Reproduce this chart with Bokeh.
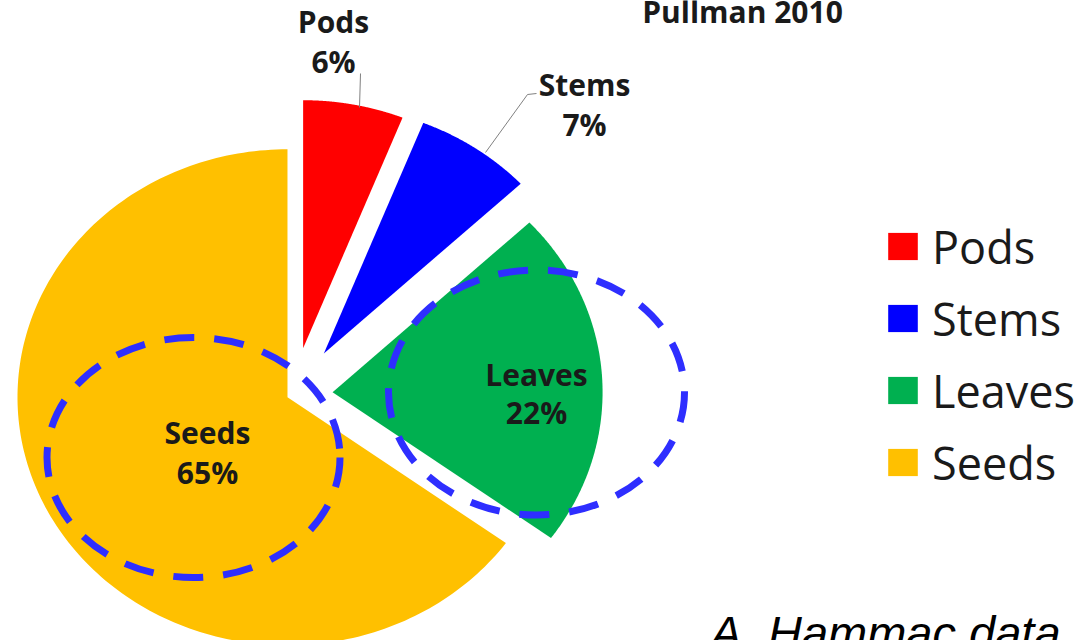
import numpy as np
from bokeh.plotting import figure
from bokeh.models import Range1d, ColumnDataSource, Legend, LegendItem
from bokeh.core.properties import value
from bokeh.embed import file_html
from bokeh.resources import INLINE

# ---- data ----
categories = ["Pods", "Stems", "Leaves", "Seeds"]
shares = [6, 7, 22, 65]
colors = ["#ff0000", "#0000ff", "#00b050", "#ffc000"]
title_text = "Pullman 2010"
credit_text = "A. Hammac data"

# ---- layout / style ----
W, H = 1086, 640
CX, CY = 293, 394          # pie centre (screen px)
RX, RY = 270, 248          # pie radii (slightly stretched horizontally)
explode = [0.19, 0.2, 0.145, 0.025]
label_x = [333, 584, 536, 207]
name_base = [21, 84, 374, 432]
pct_base = [61, 124, 412, 472]
LABEL_FONT = value("Open Sans")

p = figure(width=W, height=H, x_range=Range1d(0, W), y_range=Range1d(H, 0),
           output_backend="svg", toolbar_location=None, min_border=0,
           x_axis_location=None, y_axis_location=None)
p.grid.visible = False
p.outline_line_color = None
p.background_fill_color = "white"

# ---- pie slices as patches (clockwise from 12 o'clock) ----
total = float(sum(shares))
fr = np.array(shares) / total
ends = np.pi / 2 - 2 * np.pi * np.cumsum(fr)
starts = np.concatenate([[np.pi / 2], ends[:-1]])
xs, ys = [], []
for a0, a1, e in zip(starts, ends, explode):
    mid = (a0 + a1) / 2
    ox = CX + e * RX * np.cos(mid)
    oy = CY - e * RY * np.sin(mid)
    t = np.linspace(a0, a1, 200)
    xs.append([ox] + list(ox + RX * np.cos(t)))
    ys.append([oy] + list(oy - RY * np.sin(t)))

src = ColumnDataSource(dict(xs=xs, ys=ys, label=categories, color=colors))
pr = p.patches("xs", "ys", fill_color="color", line_color=None, source=src)

# ---- leader lines ----
p.line([360, 359], [73, 107], line_color="#808080", line_width=1)
p.line([536, 527, 485], [93, 94, 152], line_color="#808080", line_width=1)

# ---- slice labels ----
p.text(x=label_x, y=name_base, text=categories, text_align="center",
       text_baseline="alphabetic", text_font=LABEL_FONT, text_font_style="bold",
       text_font_size="30px", text_color="#1a1a1a")
p.text(x=label_x, y=pct_base, text=[f"{v}%" for v in shares], text_align="center",
       text_baseline="alphabetic", text_font=LABEL_FONT, text_font_style="bold",
       text_font_size="30px", text_color="#1a1a1a")

# ---- title ----
p.text(x=[742], y=[11], text=[title_text], text_align="center", text_baseline="alphabetic",
       text_font=LABEL_FONT, text_font_style="bold", text_font_size="30px", text_color="#1a1a1a")

# ---- dashed highlight ellipses ----
p.ellipse(x=[193, 536], y=[457, 392], width=[293, 296], height=[240, 245],
          fill_color=None, line_color="#2e2eff", line_width=7, line_dash="30 20")

# ---- credit ----
p.text(x=[710], y=[632], text=[credit_text], text_align="left", text_baseline="alphabetic",
       text_font=value("Liberation Sans"), text_font_style="italic",
       text_font_size="47px", text_color="#000000")

# ---- legend ----
items = [LegendItem(label=c, renderers=[pr], index=i) for i, c in enumerate(categories)]
legend = Legend(items=items, location=(884, 146), glyph_width=37, glyph_height=34,
                label_text_font="Open Sans", label_text_font_size="45px",
                label_text_color="#1a1a1a", label_standoff=11, spacing=8,
                label_height=64, padding=0, margin=0, border_line_color=None,
                background_fill_alpha=0)
p.add_layout(legend)

open("out.html", "w").write(file_html(p, INLINE))
